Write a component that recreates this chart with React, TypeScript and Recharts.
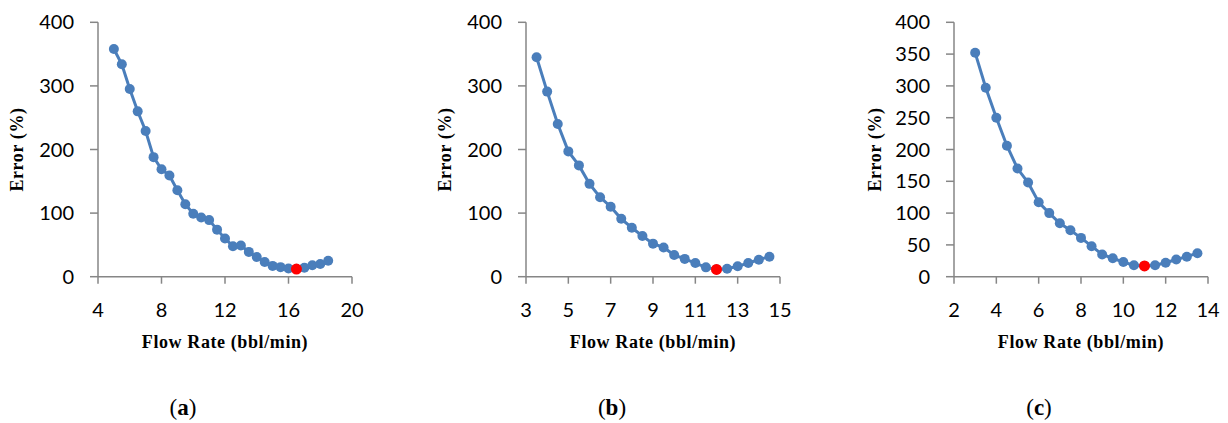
import React from 'react';
import { ComposedChart, Line, XAxis, YAxis, Label } from 'recharts';

// panel (a)
const aFlow = [5, 5.5, 6, 6.5, 7, 7.5, 8, 8.5, 9, 9.5, 10, 10.5, 11, 11.5, 12, 12.5, 13, 13.5, 14, 14.5, 15, 15.5, 16, 16.5, 17, 17.5, 18, 18.5];
const aError = [358, 334, 295, 260, 229, 188, 169, 159, 136, 114, 99, 93, 89, 74, 60, 48, 49, 39, 31, 23, 17, 15, 13, 12, 14, 18, 20, 25];
const aBest = { x: 16.5, y: 12 };
const aTicksX = [4, 8, 12, 16, 20];
const aTicksY = [0, 100, 200, 300, 400];

// panel (b)
const bFlow = [3.5, 4, 4.5, 5, 5.5, 6, 6.5, 7, 7.5, 8, 8.5, 9, 9.5, 10, 10.5, 11, 11.5, 12, 12.5, 13, 13.5, 14, 14.5];
const bError = [345, 291, 240, 197, 175, 146, 125, 110, 91, 77, 64, 52, 46, 34, 28, 21.5, 14.7, 11.5, 12.6, 16.3, 21.5, 26.7, 31.5];
const bBest = { x: 12, y: 11.5 };
const bTicksX = [3, 5, 7, 9, 11, 13, 15];
const bTicksY = [0, 100, 200, 300, 400];

// panel (c)
const cFlow = [3, 3.5, 4, 4.5, 5, 5.5, 6, 6.5, 7, 7.5, 8, 8.5, 9, 9.5, 10, 10.5, 11, 11.5, 12, 12.5, 13, 13.5];
const cError = [352, 297, 250, 206, 170, 148, 117, 100, 84, 73, 61, 48, 35, 29, 23, 18, 17, 18, 22, 27, 31.5, 37];
const cBest = { x: 11, y: 17 };
const cTicksX = [2, 4, 6, 8, 10, 12, 14];
const cTicksY = [0, 50, 100, 150, 200, 250, 300, 350, 400];

const BLUE = '#4A7EBB';
const AXIS = '#868686';
const tickFont = { fontFamily: 'Lato, sans-serif', fontSize: 20, fill: '#000' };
const titleFont = { fontFamily: '"Liberation Serif", serif', fontSize: 18, fontWeight: 700, fill: '#000', letterSpacing: 0.6 };

type PanelProps = {
  left: number;
  flow: number[];
  error: number[];
  best: { x: number; y: number };
  ticksX: number[];
  ticksY: number[];
  yLabelDx: number;
};

const Panel: React.FC<PanelProps> = ({ left, flow, error, best, ticksX, ticksY, yLabelDx }) => {
  const points = flow.map((x, i) => ({ x, y: error[i] }));
  return (
    <div style={{ position: 'absolute', left, top: 0 }}>
      <ComposedChart width={374} height={423} margin={{ top: 22.3, right: 30, bottom: 0, left: 0 }}>
        <XAxis
          type="number"
          dataKey="x"
          domain={[ticksX[0], ticksX[ticksX.length - 1]]}
          ticks={ticksX}
          interval={0}
          height={146.3}
          stroke={AXIS}
          strokeWidth={1.5}
          tickSize={7}
          tickMargin={19}
          tick={tickFont}
        >
          <Label value="Flow Rate (bbl/min)" position="center" dy={-8} style={titleFont} />
        </XAxis>
        <YAxis
          type="number"
          dataKey="y"
          domain={[0, 400]}
          ticks={ticksY}
          interval={0}
          width={90}
          stroke={AXIS}
          strokeWidth={1.5}
          tickSize={8}
          tickMargin={16}
          tick={tickFont}
        >
          <Label value="Error (%)" angle={-90} position="center" dx={yLabelDx} style={titleFont} />
        </YAxis>
        <Line
          data={points}
          dataKey="y"
          type="linear"
          stroke={BLUE}
          strokeWidth={3}
          dot={{ r: 5, fill: BLUE, stroke: 'none' }}
          activeDot={false}
          isAnimationActive={false}
        />
        <Line
          data={[best]}
          dataKey="y"
          stroke="none"
          dot={{ r: 5.5, fill: '#FF0000', stroke: 'none' }}
          activeDot={false}
          isAnimationActive={false}
        />
      </ComposedChart>
    </div>
  );
};

const Caption: React.FC<{ cx: number; letter: string }> = ({ cx, letter }) => (
  <div
    style={{
      position: 'absolute',
      left: cx,
      top: 408,
      transform: 'translate(-50%, -50%)',
      fontFamily: '"Liberation Serif", serif',
      fontSize: 23,
      color: '#000',
      whiteSpace: 'nowrap',
    }}
  >
    (<b>{letter}</b>)
  </div>
);

export default function App() {
  return (
    <div style={{ position: 'absolute', left: 0, top: 0, width: 1228, height: 423, background: '#fff', overflow: 'hidden' }}>
      <Panel left={8.3} flow={aFlow} error={aError} best={aBest} ticksX={aTicksX} ticksY={aTicksY} yLabelDx={-36} />
      <Panel left={436} flow={bFlow} error={bError} best={bBest} ticksX={bTicksX} ticksY={bTicksY} yLabelDx={-36} />
      <Panel left={864} flow={cFlow} error={cError} best={cBest} ticksX={cTicksX} ticksY={cTicksY} yLabelDx={-34} />
      <Caption cx={183} letter="a" />
      <Caption cx={612} letter="b" />
      <Caption cx={1039} letter="c" />
    </div>
  );
}
